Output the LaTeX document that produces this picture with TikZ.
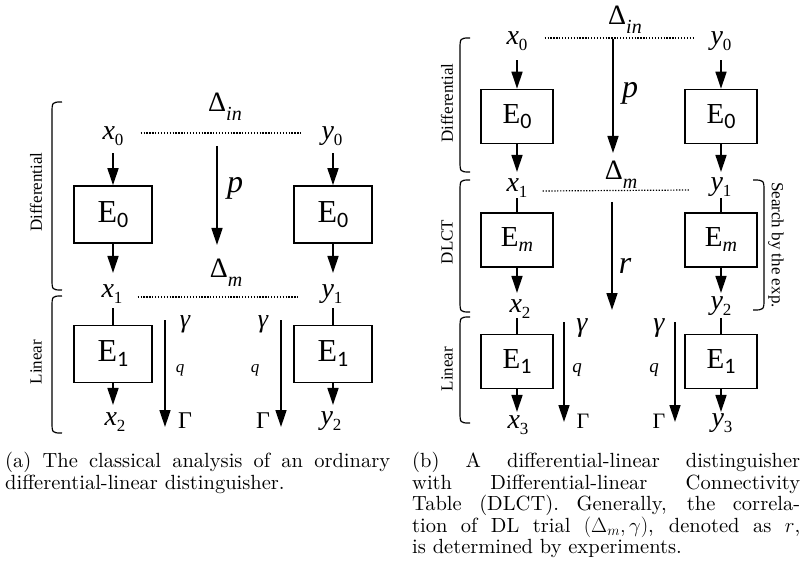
\documentclass[tikz,border=0pt]{standalone}
\usepackage{fontspec}
\newfontfamily\tnr{Liberation Serif}
\newfontfamily\sansd{Carlito}
\newfontfamily\capf{lmroman10-regular.otf}[ItalicFont=lmroman10-italic.otf]
\usetikzlibrary{arrows.meta}
\newcommand{\tn}[2]{{\tnr\fontsize{#1}{#1}\selectfont #2}}
\newcommand{\ti}[2]{{\tnr\itshape\fontsize{#1}{#1}\selectfont #2}}
\newcommand{\vv}[2]{\ti{28}{#1}\raisebox{-6pt}{\tn{17}{#2}}}
\newcommand{\dd}[1]{\tn{28}{Δ}\raisebox{-9pt}{\ti{20}{#1}}}
\newcommand{\Ez}[3]{\tn{#1}{E}\raisebox{-5pt}{#3}}
\newcommand{\sd}[2]{{\sansd\fontsize{#1}{#1}\selectfont #2}}
\newcommand{\leftbr}[3]{\draw[brc] (#1,#2) .. controls (#1-10,#2) .. (#1-10,#2+12) -- (#1-10,#3-12) .. controls (#1-10,#3) .. (#1,#3);}
\newcommand{\rightbr}[3]{\draw[brc] (#1,#2) .. controls (#1+11,#2) .. (#1+11,#2+12) -- (#1+11,#3-12) .. controls (#1+11,#3) .. (#1,#3);}
\tikzset{
  arr/.style={line width=1.5pt, -{Triangle[length=17pt,width=11pt]}},
  conn/.style={line width=1.5pt},
  dotl/.style={line width=1.2pt, dash pattern=on 1.3pt off 1.6pt},
  boxa/.style={draw, line width=1.6pt, minimum width=78pt, minimum height=57pt, inner sep=0pt},
  boxb/.style={draw, line width=1.6pt, minimum width=72pt, minimum height=54pt, inner sep=0pt},
  lbl/.style={inner sep=0pt, anchor=base},
  side/.style={inner sep=0pt, font=\tnr\fontsize{17}{17}\selectfont},
  brc/.style={line width=1.2pt},
  capt/.style={anchor=north west, inner sep=0pt, align=justify, font=\capf\fontsize{20.5}{21.5}\selectfont}
}
\begin{document}
\begin{tikzpicture}[x=1pt,y=-1pt]
\fill[white] (0,0) rectangle (802,585);
\useasboundingbox (0,0) rectangle (802,585);

% ---------------- (a) ----------------
\node[boxa] (aE0l) at (113,214.5) {\Ez{32}{0}{\sd{22}{0}}};
\node[boxa] (aE0r) at (333,214.5) {\Ez{32}{0}{\sd{22}{0}}};
\node[boxa] (aE1l) at (113,354) {\Ez{32}{1}{\sd{22}{1}}};
\node[boxa] (aE1r) at (333,354) {\Ez{32}{1}{\sd{22}{1}}};
\node[lbl] (ax0) at (113,140) {\vv{x}{0}};
\node[lbl] (ay0) at (332,140) {\vv{y}{0}};
\node[lbl] (ax1) at (112,297) {\vv{x}{1}};
\node[lbl] (ay1) at (332,297) {\vv{y}{1}};
\node[lbl] (ax2) at (115,425) {\vv{x}{2}};
\node[lbl] (ay2) at (331,424) {\vv{y}{2}};
\node[lbl] (aDin) at (225,112) {\dd{in}};
\node[lbl] (aDm) at (226,277) {\dd{m}};
\node[lbl] (ap) at (235,193) {\ti{32}{p}};
\node[lbl] (agl) at (185,327) {\ti{26}{γ}};
\node[lbl] (aql) at (180,372) {\ti{17}{q}};
\node[lbl] (aGl) at (185,428) {\tn{24}{Γ}};
\node[lbl] (agr) at (263,327) {\ti{26}{γ}};
\node[lbl] (aqr) at (255,372) {\ti{17}{q}};
\node[lbl] (aGr) at (263,428) {\tn{24}{Γ}};

\draw[arr] ([yshift=-7pt]ax0.south -| aE0l.north) -- (aE0l.north);
\draw[arr] (aE0l.south) -- ([yshift=11pt]ax1.north -| aE0l.south);
\draw[arr] ([yshift=-7pt]ay0.south -| aE0r.north) -- (aE0r.north);
\draw[arr] (aE0r.south) -- ([yshift=11pt]ay1.north -| aE0r.south);
\draw[conn] ([yshift=-5pt]ax1.south -| aE1l.north) -- (aE1l.north);
\draw[conn] ([yshift=-5pt]ay1.south -| aE1r.north) -- (aE1r.north);
\draw[arr] (aE1l.south) -- ([yshift=7pt]ax2.north -| aE1l.south);
\draw[arr] (aE1r.south) -- ([yshift=6pt]ay2.north -| aE1r.south);
\draw[dotl] ([shift={(17pt,7pt)}]ax0.base east) -- ([shift={(-20pt,7pt)}]ay0.base west);
\draw[dotl] ([shift={(15pt,0pt)}]ax1.base east) -- ([shift={(-22pt,0pt)}]ay1.base west);
\coordinate (apS) at (217,146); \coordinate (apE) at (217,245);
\draw[arr] (apS) -- (apE);
\coordinate (aglS) at (165,320); \coordinate (aglE) at (165,427);
\draw[arr] (aglS) -- (aglE);
\coordinate (agrS) at (281,320); \coordinate (agrE) at (281,427);
\draw[arr] (agrS) -- (agrE);

\leftbr{62}{102}{290}
\leftbr{62}{296}{433}
\node[side, rotate=90] (aLd) at (36,192) {Differential};
\node[side, rotate=90] (aLl) at (36,362) {Linear};

% ---------------- (b) ----------------
\node[boxb] (bE0l) at (517,116.5) {\Ez{29}{0}{\sd{22}{0}}};
\node[boxb] (bE0r) at (721,116.5) {\Ez{29}{0}{\sd{22}{0}}};
\node[boxb] (bEml) at (517,240) {\Ez{29}{m}{\ti{20}{m}}};
\node[boxb] (bEmr) at (721,240) {\Ez{29}{m}{\ti{20}{m}}};
\node[boxb] (bE1l) at (517,361.5) {\Ez{29}{1}{\sd{22}{1}}};
\node[boxb] (bE1r) at (721,361.5) {\Ez{29}{1}{\sd{22}{1}}};
\node[lbl] (bx0) at (517,45) {\vv{x}{0}};
\node[lbl] (by0) at (721,45) {\vv{y}{0}};
\node[lbl] (bx1) at (517,192) {\vv{x}{1}};
\node[lbl] (by1) at (721,191) {\vv{y}{1}};
\node[lbl] (bx2) at (520,312) {\vv{x}{2}};
\node[lbl] (by2) at (721,309) {\vv{y}{2}};
\node[lbl] (bx3) at (518,428) {\vv{x}{3}};
\node[lbl] (by3) at (722,426) {\vv{y}{3}};
\node[lbl] (bDin) at (625,25) {\dd{in}};
\node[lbl] (bDm) at (621,180) {\dd{m}};
\node[lbl] (bp) at (630,98) {\ti{32}{p}};
\node[lbl] (br) at (625,273) {\ti{32}{r}};
\node[lbl] (bgl) at (582,331) {\ti{28}{γ}};
\node[lbl] (bql) at (577,372) {\ti{19}{q}};
\node[lbl] (bGl) at (583,428) {\tn{22}{Γ}};
\node[lbl] (bgr) at (659,331) {\ti{28}{γ}};
\node[lbl] (bqr) at (654,372) {\ti{19}{q}};
\node[lbl] (bGr) at (659,428) {\tn{22}{Γ}};

\draw[arr] ([yshift=-9pt]bx0.south -| bE0l.north) -- (bE0l.north);
\draw[arr] (bE0l.south) -- ([yshift=7pt]bx1.north -| bE0l.south);
\draw[arr] ([yshift=-9pt]by0.south -| bE0r.north) -- (bE0r.north);
\draw[arr] (bE0r.south) -- ([yshift=6pt]by1.north -| bE0r.south);
\draw[conn] (bx1.south -| bEml.north) -- (bEml.north);
\draw[conn] ([yshift=-1pt]by1.south -| bEmr.north) -- (bEmr.north);
\draw[arr] (bEml.south) -- ([yshift=6pt]bx2.north -| bEml.south);
\draw[arr] (bEmr.south) -- ([yshift=3pt]by2.north -| bEmr.south);
\draw[conn] (bx2.south -| bE1l.north) -- (bE1l.north);
\draw[conn] ([yshift=-3pt]by2.south -| bE1r.north) -- (bE1r.north);
\draw[arr] (bE1l.south) -- ([yshift=3pt]bx3.north -| bE1l.south);
\draw[arr] (bE1r.south) -- ([yshift=1pt]by3.north -| bE1r.south);
\draw[dotl] ([shift={(17pt,7pt)}]bx0.base east) -- ([shift={(-17pt,7pt)}]by0.base west);
\draw[dotl] ([shift={(15pt,1pt)}]bx1.base east) -- ([shift={(-20pt,1pt)}]by1.base west);
\coordinate (bpS) at (613,39); \coordinate (bpE) at (613,153);
\draw[arr] (bpS) -- (bpE);
\coordinate (brS) at (612,202); \coordinate (brE) at (612,310);
\draw[arr] (brS) -- (brE);
\coordinate (bglS) at (564,322); \coordinate (bglE) at (564,422);
\draw[arr] (bglS) -- (bglE);
\coordinate (bgrS) at (675,322); \coordinate (bgrE) at (675,422);
\draw[arr] (bgrS) -- (bgrE);

\leftbr{470}{38}{172}
\leftbr{470}{180}{312}
\leftbr{470}{317}{423}
\rightbr{753}{180}{310}
\node[side, rotate=90] (bLd) at (447,103) {Differential};
\node[side, rotate=90] (bLc) at (447,242) {DLCT};
\node[side, rotate=90] (bLl) at (447,369) {Linear};
\node[side, rotate=-90] (bLs) at (776,245) {Search by the exp.};

% ---------------- captions ----------------
\node[capt, text width=385pt] (capa) at (5,452) {(a) The classical analysis of an ordinary\linebreak differential-linear distinguisher.};
\node[capt, text width=388pt] (capb) at (412,452) {(b) A differential-linear distinguisher\linebreak with Differential-linear Connectivity\linebreak Table (DLCT). Generally, the correla-\linebreak tion of DL trial $(\Delta_m,\gamma)$, denoted as $r$,\linebreak is determined by experiments.};
\end{tikzpicture}
\end{document}
